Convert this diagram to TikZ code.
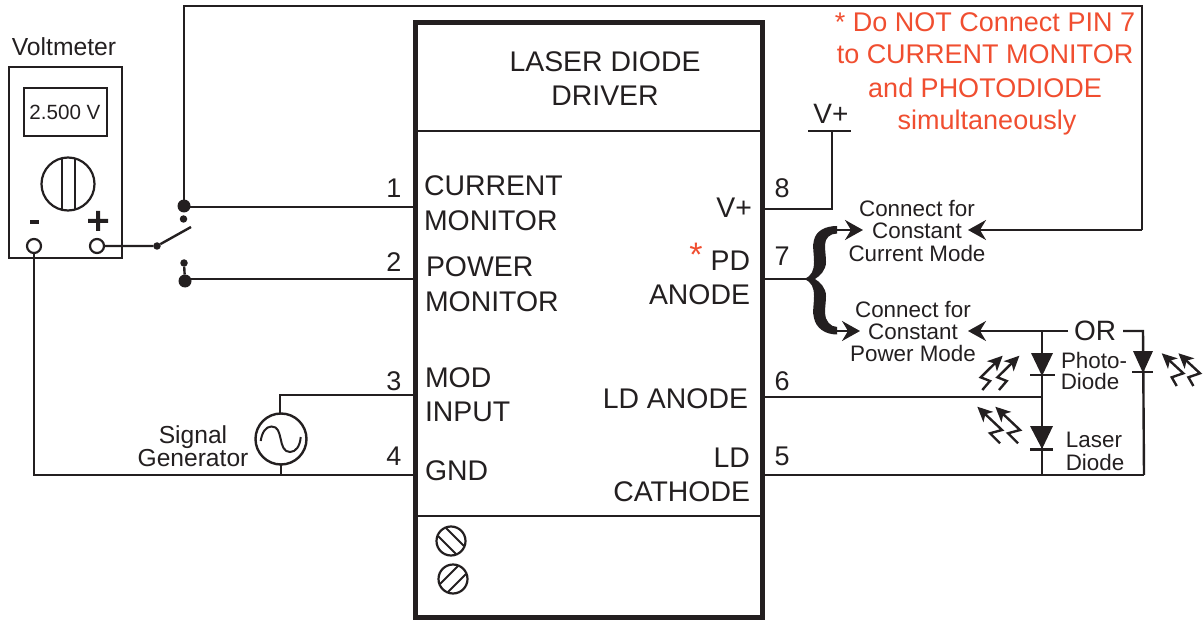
\documentclass[tikz,border=0pt]{standalone}
\usepackage{fontspec}
\setmainfont{Liberation Sans}
\usetikzlibrary{arrows.meta,calc}
\definecolor{ink}{HTML}{231F20}
\definecolor{redtxt}{HTML}{F04E30}
\tikzset{
 wire/.style={draw=ink,line width=2.4pt},
 thinw/.style={draw=ink,line width=2pt},
 lbl/.style={inner sep=0pt,outer sep=0pt,text=ink,text height={0.72*#1},text depth=0pt,font=\fontsize{#1}{#1}\selectfont},
 lbl/.default=28.4,
 redl/.style={lbl=27,text=redtxt},
 bigdot/.style={circle,fill=ink,inner sep=0pt,minimum size=13pt,outer sep=0pt},
 smalldot/.style={circle,fill=ink,inner sep=0pt,minimum size=7.5pt,outer sep=0pt},
 term/.style={circle,draw=ink,line width=2.2pt,inner sep=0pt,minimum size=14pt,outer sep=0pt},
 screw/.style={circle,draw=ink,line width=2.2pt,inner sep=0pt,minimum size=29pt,outer sep=0pt},
 head/.style={-{Stealth[length=18pt,width=20pt,inset=6pt]}},
 lighttip/.style={-{Stealth[length=15pt,width=14pt,inset=4pt]}},
 diode/.style={fill=ink,draw=none},
}
\begin{document}
\begin{tikzpicture}[x=1pt,y=-1pt]
\useasboundingbox (0,0) rectangle (1204,620);
% main box
\draw[draw=ink,line width=5pt] (415,23) rectangle (762,617);
\coordinate (boxTL) at (415,131); \coordinate (boxTR) at (762,131);
\coordinate (boxBL) at (415,516); \coordinate (boxBR) at (762,516);
\draw[wire] (boxTL) -- (boxTR);
\draw[wire] (boxBL) -- (boxBR);
\node[lbl] (title1) at (605,61) {LASER DIODE};
\node[lbl] (title2) at (605,95) {DRIVER};
% pins
\coordinate (pin1) at (414,207); \coordinate (pin2) at (414,279);
\coordinate (pin3) at (414,395); \coordinate (pin4) at (414,475);
\coordinate (pin8) at (763,209); \coordinate (pin7) at (763,279);
\coordinate (pin6) at (763,397); \coordinate (pin5) at (763,475);
\foreach \t/\x/\y in {1/394/188,2/394/262,3/394/381,4/394/456,8/782/188,7/782/256,6/782/381,5/782/456}
  \node[lbl=27] (n\t) at (\x,\y) {\t};
\node[lbl,anchor=west] (lCur) at (424,185) {CURRENT};
\node[lbl,anchor=west] (lMon) at (424,220) {MONITOR};
\node[lbl,anchor=west] (lPow) at (426,266) {POWER};
\node[lbl,anchor=west] (lMon2) at (425,301) {MONITOR};
\node[lbl,anchor=west] (lMod) at (425,377) {MOD};
\node[lbl,anchor=west] (lInp) at (425,411) {INPUT};
\node[lbl,anchor=west] (lGnd) at (425,470) {GND};
\node[lbl,anchor=east] (lV) at (752,207) {V+};
\node[lbl,anchor=east] (lPD) at (750,260) {PD};
\node[lbl,anchor=east] (lAn) at (750,294) {ANODE};
\node[lbl,anchor=east] (lLA) at (748,398) {LD ANODE};
\node[lbl,anchor=east] (lLD) at (750,457) {LD};
\node[lbl,anchor=east] (lCa) at (750,491) {CATHODE};
\node[lbl=34,text=redtxt] (star) at (696,254) {*};
% red note
\node[redl] (r1) at (985,22) {* Do NOT Connect PIN 7};
\node[redl] (r2) at (985,54) {to CURRENT MONITOR};
\node[redl] (r3) at (985,88) {and PHOTODIODE};
\node[redl] (r4) at (987,120) {simultaneously};
% voltmeter
\node[lbl=24.7] (vm) at (64,47) {Voltmeter};
\draw[wire] (9,67) rectangle (122,258);
\draw[wire] (24,88) rectangle (107,136);
\node[lbl=20.6] (reading) at (65,112) {2.500 V};
\node[circle,draw=ink,line width=2.2pt,minimum size=53pt,inner sep=0pt] (knob) at (68,184) {};
\draw[thinw] (61.5,158) -- (61.5,210) (74.5,158) -- (74.5,210);
\fill[ink] (29.5,220) rectangle (39,224.5);
\fill[ink] (88,219) rectangle (108,223) (96,211) rectangle (100,231);
\node[term] (tm) at (34,246) {};
\node[term] (tp) at (97,246) {};
% switch
\node[bigdot] (j1) at (184,206) {};
\node[bigdot] (j2) at (185,281) {};
\node[smalldot] (s1) at (183.5,219) {};
\node[smalldot] (s2) at (184,263) {};
\node[smalldot] (piv) at (157,246) {};
\coordinate (arm) at (191,227);
\coordinate (topR) at (1142,6);
\coordinate (topL) at (184,6);
\draw[wire] (j1.center) -- (topL) -- (topR) -- (1142,230) coordinate (topE);
\draw[wire] (184,207) -- (pin1);
\draw[wire] (185,279) -- (pin2);
\draw[wire] (s2) -- (j2);
\draw[wire] (tp.east) -- (piv) -- (arm);
% ground / generator
\coordinate (gndC) at (34,475);
\draw[wire] (tm.south) -- (gndC) -- (pin4);
\node[circle,draw=ink,line width=2.4pt,minimum size=51pt,inner sep=0pt,outer sep=0pt] (gen) at (281,439) {};
\draw[wire] (pin3) -- (280,395) -- (gen.north -| 280,0);
\draw[wire] (gen.south) -- (gen.south |- pin4);
\draw[thinw] (260.7,441) .. controls (262,432) and (266,426.5) .. (271.5,426.5) .. controls (278,426.5) and (279,432) .. (280.7,439) .. controls (282,446) and (284,452) .. (290,452) .. controls (296,452) and (300,446) .. (300.7,437);
\node[lbl=24.6] (sg1) at (193,435) {Signal};
\node[lbl=24.6] (sg2) at (193,458) {Generator};
% screws
\node[screw] (sc1) at (451,541) {};
\node[screw] (sc2) at (453,579) {};
\draw[thinw] ($(sc1)+(-13,-5)$) -- ($(sc1)+(5,13)$) ($(sc1)+(-5,-13)$) -- ($(sc1)+(13,5)$);
\draw[thinw] ($(sc2)+(-13,5)$) -- ($(sc2)+(5,-13)$) ($(sc2)+(-5,13)$) -- ($(sc2)+(13,-5)$);
% V+
\coordinate (vb) at (832,131);
\draw[wire] (pin8) -- (832,209) -- (vb);
\draw[wire] (808,131) -- (851,131);
\node[lbl=28] (vplus) at (831,113) {V+};
% brace
\draw[wire] (pin7) -- (806,279);
\fill[ink] (804,279) .. controls (812,276) and (814,270) .. (814,262) .. controls (814,252) and (812,246) .. (814,240) .. controls (816,231) and (825,226) .. (837,226) -- (837,233.5) .. controls (830,233.5) and (825,238) .. (825,245) .. controls (825,252) and (826,256) .. (826,262) .. controls (826,270) and (820,276) .. (815,279) .. controls (820,282) and (826,288) .. (826,296) .. controls (826,302) and (825,306) .. (825,313) .. controls (825,320) and (830,327) .. (837,327) -- (837,334.5) .. controls (825,334.5) and (816,328) .. (814,318) .. controls (812,312) and (814,306) .. (814,296) .. controls (814,288) and (812,282) .. (804,279) -- cycle;
\node[lbl=22.4] (c1a) at (917,208) {Connect for};
\node[lbl=22.4] (c1b) at (917,230) {Constant};
\node[lbl=22.4] (c1c) at (917,253) {Current Mode};
\node[lbl=22.4] (c2a) at (913,309) {Connect for};
\node[lbl=22.4] (c2b) at (913,331) {Constant};
\node[lbl=22.4] (c2c) at (913,353) {Power Mode};
\draw[wire,head] (836,230) -- (863,230);
\draw[wire,head] (836,331) -- (860,331);
\draw[wire,head] (topE) -- (968,230);
\node[lbl=28] (orn) at (1095,330) {OR};
\draw[wire,head] (1068,331) -- (968,331);
\coordinate (orR) at (1143,331);
\draw[wire] (1123,331) -- (orR) -- (1144,475);
\coordinate (jTop) at (1042,331);
\coordinate (jBot) at (1042,475);
\draw[wire] (jTop) -- (jBot);
\draw[wire] (pin6) -- (1042,397);
\draw[wire] (pin5) -- (1144,475);
% diodes
\fill[diode] (1031,353) -- (1053,353) -- (1042,376) -- cycle;
\draw[wire] (1030,375) -- (1055,375);
\fill[diode] (1030,426) -- (1053,426) -- (1042,449) -- cycle;
\draw[wire] (1030,449.5) -- (1053,449.5);
\fill[diode] (1133,351) -- (1153,351) -- (1143,373) -- cycle;
\draw[wire] (1132,372) -- (1153,372);
% light arrows
\foreach \d in {0,16.7}
 \draw[wire,lighttip] (982.3+\d,390) -- (990+\d,381) -- (980.7+\d,377.3) -- (1002.7+\d,355.7);
\foreach \d in {0,18}
 \draw[wire,lighttip] (1000+\d,443.3) -- (990+\d,433.3) -- (1002+\d,430) -- (977.3+\d,406.7);
\foreach \d in {0,16.7}
 \draw[wire,lighttip] (1176.7+\d,386) -- (1171.7+\d,377.3) -- (1183.3+\d,373.3) -- (1161.7+\d,353.3);
\node[lbl=22.4] (ph1) at (1094,360) {Photo-};
\node[lbl=22.4] (ph2) at (1090,381) {Diode};
\node[lbl=22.4] (la1) at (1094,439) {Laser};
\node[lbl=22.4] (la2) at (1095,462) {Diode};
\end{tikzpicture}
\end{document}
